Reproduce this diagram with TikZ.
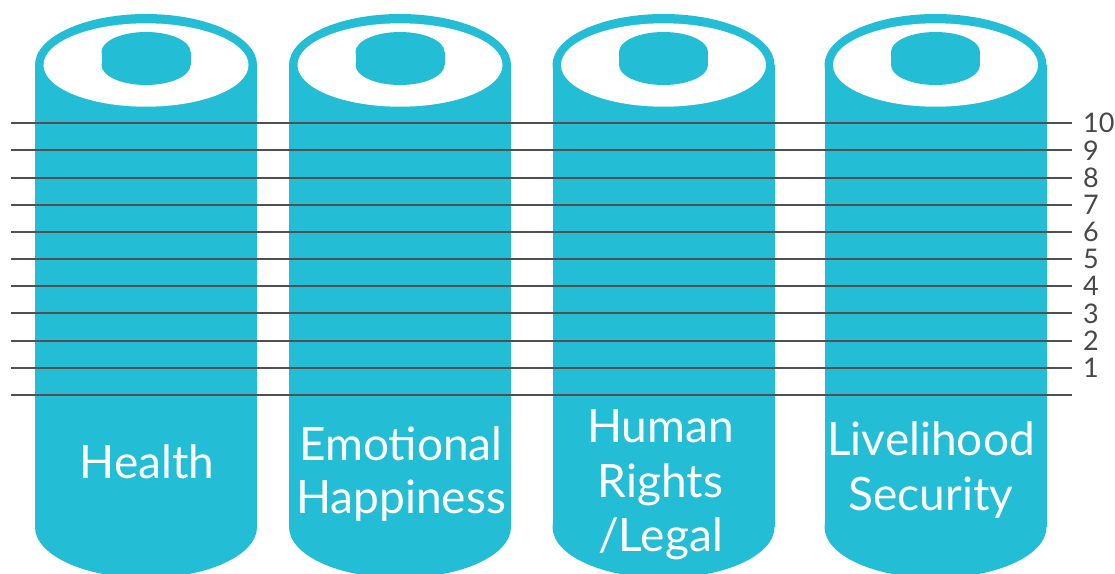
\documentclass[tikz,border=0pt]{standalone}
\usepackage{fontspec}
\setmainfont{Lato}
\definecolor{teal}{HTML}{23BED5}
\definecolor{rule}{HTML}{505050}
\tikzset{
  label/.style={text=white, font=\fontsize{46}{54}\selectfont, anchor=base, inner sep=0pt},
  numlabel/.style={text=rule!90!black, font=\fontsize{27}{30}\selectfont, anchor=west, inner sep=0pt},
  scaleline/.style={draw=rule, line width=2pt}
}
\begin{document}
\begin{tikzpicture}[x=1pt,y=-1pt]
\useasboundingbox (0,0) rectangle (1115,573);
\clip (0,0) rectangle (1115,573);
\foreach \c in {146,400,663.5,935.5}{
  \fill[teal] (\c-111,65) rectangle (\c+111,527);
  \fill[teal] (\c,65) ellipse [x radius=111, y radius=51];
  \fill[teal] (\c,527) ellipse [x radius=111, y radius=51];
  \fill[white] (\c,65) ellipse [x radius=102.5, y radius=41.7];
  \fill[teal] (\c,52) ellipse [x radius=44.5, y radius=20];
  \fill[teal] (\c-44.5,52) rectangle (\c+44.5,65);
  \fill[teal] (\c,65) ellipse [x radius=44.5, y radius=20];
}
\foreach \k in {0,...,10}{
  \draw[scaleline] (11,123.3+27.17*\k) -- (1072,123.3+27.17*\k);
}
\foreach \k/\n in {0/10,1/9,2/8,3/7,4/6,5/5,6/4,7/3,8/2,9/1}{
  \node[numlabel] (n\n) at (1083,123.3+27.17*\k) {\n};
}
\node[label] (health) at (147,478) {Health};
\node[label] (emo1) at (401,460) {Emotional};
\node[label] (emo2) at (401,513) {Happiness};
\node[label] (hum1) at (660.5,442) {Human};
\node[label] (hum2) at (660.5,497) {Rights};
\node[label] (hum3) at (660.5,551) {/Legal};
\node[label] (liv1) at (931,455) {Livelihood};
\node[label] (liv2) at (931,510) {Security};
\end{tikzpicture}
\end{document}
